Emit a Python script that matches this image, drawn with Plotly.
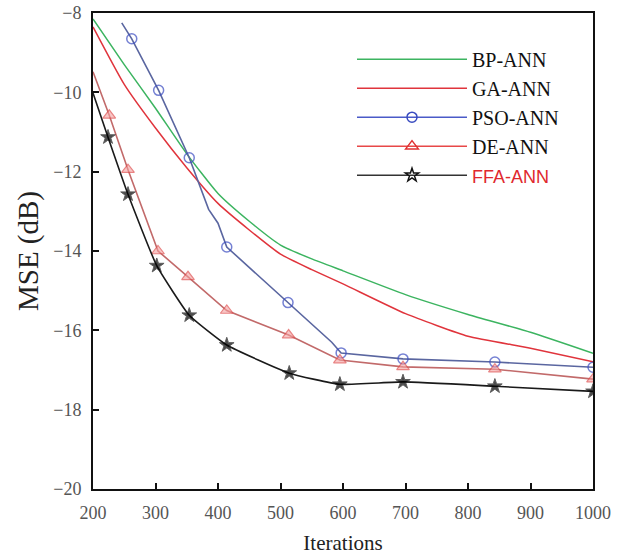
import plotly.graph_objects as go

# ---- data ----
iters_bp = [200, 250, 300, 350, 400, 450, 500, 550, 600, 700, 800, 900, 1000]
mse_bp = [-8.15, -9.3, -10.4, -11.55, -12.55, -13.25, -13.85, -14.2, -14.5, -15.1, -15.6, -16.05, -16.58]

iters_ga = [200, 250, 300, 350, 400, 450, 500, 550, 600, 700, 800, 900, 1000]
mse_ga = [-8.35, -9.8, -10.9, -11.9, -12.8, -13.47, -14.08, -14.47, -14.83, -15.58, -16.15, -16.45, -16.79]

iters_pso = [246, 262, 305, 354, 385, 400, 414, 512, 582, 597, 696, 843, 1000]
mse_pso = [-8.25, -8.65, -9.95, -11.65, -12.95, -13.3, -13.9, -15.3, -16.3, -16.57, -16.72, -16.8, -16.93]
pso_marked = [0, 1, 1, 1, 0, 0, 1, 1, 0, 1, 1, 1, 1]

iters_de = [200, 226, 256, 304, 352, 414, 513, 595, 696, 843, 1000]
mse_de = [-9.48, -10.58, -11.95, -14.0, -14.65, -15.5, -16.12, -16.75, -16.92, -16.98, -17.23]
de_marked = [0, 1, 1, 1, 1, 1, 1, 1, 1, 1, 1]

iters_ffa = [200, 224, 256, 302, 354, 414, 514, 595, 696, 843, 1000]
mse_ffa = [-10.02, -11.13, -12.57, -14.37, -15.62, -16.37, -17.08, -17.36, -17.3, -17.41, -17.54]
ffa_marked = [0, 1, 1, 1, 1, 1, 1, 1, 1, 1, 1]

names = ["BP-ANN", "GA-ANN", "PSO-ANN", "DE-ANN", "FFA-ANN"]
x_ticks = [200, 300, 400, 500, 600, 700, 800, 900, 1000]
y_ticks = [-20, -18, -16, -14, -12, -10, -8]

SERIF = "Liberation Serif, Times New Roman, serif"

fig = go.Figure()

def sizes(marked, s):
    return [s if m else 0 for m in marked]

# data traces
fig.add_trace(go.Scatter(x=iters_bp, y=mse_bp, mode="lines", showlegend=False,
                         line=dict(color="#3cb460", width=1.5, shape="spline", smoothing=0.5)))
fig.add_trace(go.Scatter(x=iters_ga, y=mse_ga, mode="lines", showlegend=False,
                         line=dict(color="#e0343c", width=1.5, shape="spline", smoothing=0.5)))
fig.add_trace(go.Scatter(x=iters_pso, y=mse_pso, mode="lines+markers", showlegend=False,
                         line=dict(color="#5a66a0", width=1.6),
                         marker=dict(symbol="circle-open", size=sizes(pso_marked, 10),
                                     color="#3a4cc0", line=dict(width=1.5))))
fig.add_trace(go.Scatter(x=iters_de, y=mse_de, mode="lines+markers", showlegend=False,
                         line=dict(color="#c26a6a", width=1.6),
                         marker=dict(symbol="triangle-up", size=sizes(de_marked, 11),
                                     color="rgba(245,160,160,0.85)",
                                     line=dict(color="#e05050", width=1.2))))
fig.add_trace(go.Scatter(x=iters_ffa, y=mse_ffa, mode="lines+markers", showlegend=False,
                         line=dict(color="#1a1a1a", width=1.6, shape="spline", smoothing=0.4),
                         marker=dict(symbol="star", size=sizes(ffa_marked, 11),
                                     color="#000000")))

# legend entries
leg_styles = [
    dict(mode="lines", line=dict(color="#3cb460", width=1.5)),
    dict(mode="lines", line=dict(color="#e0343c", width=1.5)),
    dict(mode="lines+markers", line=dict(color="#4a5ac8", width=1.5),
         marker=dict(symbol="circle-open", size=10, color="#3a4cc0", line=dict(width=1.5))),
    dict(mode="lines+markers", line=dict(color="#e84848", width=1.5),
         marker=dict(symbol="triangle-up-open", size=11, color="#e03030", line=dict(width=1.5))),
    dict(mode="lines+markers", line=dict(color="#333333", width=1.5),
         marker=dict(symbol="star-open", size=10, color="#111111", line=dict(width=1.5))),
]
leg_names = [
    names[0], names[1], names[2], names[3],
    '<span style="font-family:Liberation Sans, Arial, sans-serif;color:#e0282e;font-size:18px">'
    + names[4] + "</span>",
]
for nm, st in zip(leg_names, leg_styles):
    fig.add_trace(go.Scatter(x=[None], y=[None], name=nm, **st))

fig.update_layout(
    width=628, height=555,
    margin=dict(l=93, r=35, t=13, b=66),
    paper_bgcolor="white", plot_bgcolor="white",
    font=dict(family=SERIF, color="#222222"),
    showlegend=True,
    legend=dict(x=0.518, y=0.944, xanchor="left", yanchor="top",
                bgcolor="rgba(0,0,0,0)", borderwidth=0,
                font=dict(family=SERIF, size=20, color="#111111"),
                itemwidth=110, tracegroupgap=0),
    xaxis=dict(range=[200, 1000], tickvals=x_ticks, ticks="inside", ticklen=6, tickwidth=1.5,
               tickcolor="#111", showline=True, linecolor="#111", linewidth=2, mirror=True,
               showgrid=False, zeroline=False, ticklabelstandoff=6, automargin=False,
               tickfont=dict(family=SERIF, size=18, color="#555555"),
               title=dict(text="Iterations", font=dict(family=SERIF, size=21, color="#222222"),
                          standoff=16)),
    yaxis=dict(range=[-20, -8], tickvals=y_ticks, ticks="inside", ticklen=6, tickwidth=1.5,
               tickcolor="#111", showline=True, linecolor="#111", linewidth=2, mirror=True,
               showgrid=False, zeroline=False, ticklabelstandoff=6, automargin=False,
               tickfont=dict(family=SERIF, size=18, color="#555555"),
               title=dict(text="MSE (dB)", font=dict(family=SERIF, size=29, color="#222222"),
                          standoff=6)),
)

fig.write_html("out.html")
